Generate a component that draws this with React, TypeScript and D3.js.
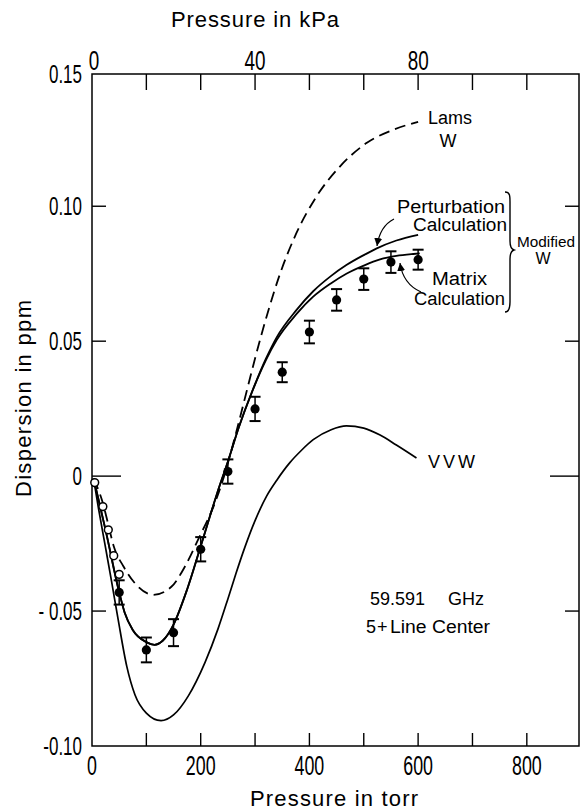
import React from "react";
import * as d3 from "d3";

const W = 580;
const H = 812;
const FONT = "'Liberation Sans', Arial, Helvetica, sans-serif";

// ---- axes ----
const torrTicks = [100, 200, 300, 400, 500, 600, 700, 800];
const torrLabels = [0, 200, 400, 600, 800];
const kpaLabels = [0, 40, 80];
const TORR_PER_KPA = 7.50062;
const yTickValues = [-0.1, -0.05, 0, 0.05, 0.1, 0.15];
const yTickLabels = ["-0.10", "- 0.05", "0", "0.05", "0.10", "0.15"];
const yInnerTicks = [-0.05, 0, 0.05, 0.1];

// ---- measured points (filled, with error bars) ----
const measTorr = [50, 100, 150, 200, 250, 300, 350, 400, 450, 500, 550, 600];
const measPpm = [-0.0431, -0.0644, -0.058, -0.0271, 0.0017, 0.0249, 0.0385, 0.0534, 0.0653, 0.073, 0.0793, 0.0802];
const measErr = [0.0045, 0.0046, 0.005, 0.0045, 0.0045, 0.0045, 0.0037, 0.0042, 0.004, 0.004, 0.004, 0.0037];

// ---- low-pressure points (open circles) ----
const lowTorr = [5, 20, 30, 40, 50];
const lowPpm = [-0.0024, -0.0113, -0.0199, -0.0295, -0.0364];

// ---- curves ----
const lamsTorr = [3, 20, 30, 40, 58, 79, 113, 146, 171, 195, 226, 243, 265, 284, 300, 321, 346, 376, 413, 456, 505, 554, 600];
const lamsPpm = [-0.001, -0.01, -0.018, -0.026, -0.0335, -0.0397, -0.044, -0.041, -0.0335, -0.0236, -0.01, 0, 0.016, 0.031, 0.0436, 0.059, 0.075, 0.09, 0.1036, 0.1147, 0.1234, 0.1283, 0.1313];

const matrixTorr = [3, 10, 25, 50, 60, 75, 100, 115, 130, 150, 175, 200, 230, 251, 270, 294, 320, 340, 376, 407, 440, 468, 500, 530, 560, 591, 603];
const matrixPpm = [-0.001, -0.007, -0.02, -0.043, -0.0505, -0.057, -0.0615, -0.0625, -0.061, -0.055, -0.042, -0.026, -0.0065, 0.006, 0.018, 0.031, 0.043, 0.0505, 0.06, 0.0665, 0.0715, 0.075, 0.078, 0.0803, 0.0816, 0.0823, 0.0825];

const perturbTorr = [3, 10, 25, 50, 60, 75, 100, 115, 130, 150, 175, 200, 230, 251, 270, 294, 320, 340, 376, 407, 440, 468, 500, 523, 560, 600];
const perturbPpm = [-0.001, -0.007, -0.02, -0.043, -0.0505, -0.057, -0.0615, -0.0625, -0.061, -0.055, -0.042, -0.026, -0.0065, 0.006, 0.018, 0.031, 0.0435, 0.0515, 0.0615, 0.0685, 0.0742, 0.0782, 0.0819, 0.0843, 0.0873, 0.0894];

const vvwTorr = [3, 12, 24, 36, 48, 64, 79, 100, 127, 150, 177, 208, 232, 250, 265, 281, 300, 321, 340, 364, 385, 407, 440, 468, 500, 530, 560, 597];
const vvwPpm = [-0.001, -0.012, -0.0255, -0.039, -0.053, -0.0705, -0.081, -0.0878, -0.0906, -0.0885, -0.0815, -0.069, -0.0565, -0.0455, -0.036, -0.0265, -0.0165, -0.0075, -0.0015, 0.005, 0.0095, 0.0135, 0.0172, 0.0186, 0.0178, 0.0152, 0.0115, 0.0067];

const L = 92, R = 579, T = 74, B = 746;

const x = d3.scaleLinear().domain([0, 896]).range([L, R]);
const xk = d3.scaleLinear().domain([0, 896 / TORR_PER_KPA]).range([L, R]);
const y = d3.scaleLinear().domain([-0.1, 0.149]).range([B, T]).clamp(true);

const line = d3
  .line<[number, number]>()
  .x((d) => x(d[0]))
  .y((d) => y(d[1]))
  .curve(d3.curveMonotoneX);

const pts = (a: number[], b: number[]) => a.map((v, i) => [v, b[i]] as [number, number]);

function NumText({ tx, ty, text, anchor, size, sx }: any) {
  return (
    <text
      transform={`translate(${tx},${ty}) scale(${sx},1)`}
      textAnchor={anchor}
      fontSize={size}
      fontFamily={FONT}
      fill="#000"
    >
      {text}
    </text>
  );
}

export default function App() {
  const tickStroke = 1.4;
  return (
    <svg
      width={W}
      height={H}
      viewBox={`0 0 ${W} ${H}`}
      style={{ position: "absolute", left: 0, top: 0, background: "#fff" }}
    >
      <defs>
        <marker
          id="ah"
          markerUnits="userSpaceOnUse"
          markerWidth="10"
          markerHeight="10"
          refX="8"
          refY="4"
          orient="auto"
        >
          <path d="M0,0 L8,4 L0,8 Z" fill="#000" />
        </marker>
      </defs>
      <rect x={0} y={0} width={W} height={H} fill="#fff" />

      {/* frame */}
      <rect x={L} y={T} width={R - L} height={B - T} fill="none" stroke="#000" strokeWidth={1.5} />

      {/* bottom ticks */}
      {torrTicks.map((t) => (
        <line key={"b" + t} x1={x(t)} x2={x(t)} y1={B} y2={B - 13} stroke="#000" strokeWidth={tickStroke} />
      ))}
      {/* top ticks */}
      {torrTicks.map((t) => (
        <line key={"t" + t} x1={x(t)} x2={x(t)} y1={T} y2={T + 16} stroke="#000" strokeWidth={tickStroke} />
      ))}
      {/* left / right ticks */}
      {yInnerTicks.map((v) => {
        const len = v === 0 ? 29 : 14;
        return (
          <g key={"y" + v}>
            <line x1={L} x2={L + len} y1={y(v)} y2={y(v)} stroke="#000" strokeWidth={tickStroke} />
            <line x1={R} x2={R - len} y1={y(v)} y2={y(v)} stroke="#000" strokeWidth={tickStroke} />
          </g>
        );
      })}

      {/* bottom labels */}
      {torrLabels.map((t) => (
        <NumText key={"bl" + t} tx={x(t)} ty={775} text={String(t)} anchor="middle" size={27} sx={0.66} />
      ))}
      {/* top labels (kPa) */}
      {kpaLabels.map((k) => (
        <NumText key={"tl" + k} tx={xk(k) + (k === 0 ? 2 : 0)} ty={70} text={String(k)} anchor="middle" size={27} sx={0.7} />
      ))}
      {/* y labels */}
      {yTickValues.map((v, i) => (
        <NumText key={"yl" + v} tx={82} ty={y(v) + 9} text={yTickLabels[i]} anchor="end" size={25} sx={0.68} />
      ))}

      {/* axis titles */}
      <text x={171} y={27} fontSize={22} fontFamily={FONT} textLength={168} lengthAdjust="spacing">
        Pressure in kPa
      </text>
      <text x={250} y={806} fontSize={22} fontFamily={FONT} textLength={168} lengthAdjust="spacing">
        Pressure in torr
      </text>
      <text
        transform={`translate(31,497) rotate(-90)`}
        fontSize={22}
        fontFamily={FONT}
        textLength={197}
        lengthAdjust="spacing"
      >
        Dispersion in ppm
      </text>

      {/* curves */}
      <path d={line(pts(lamsTorr, lamsPpm)) || ""} fill="none" stroke="#000" strokeWidth={1.8} strokeDasharray="11,6" />
      <path d={line(pts(perturbTorr, perturbPpm)) || ""} fill="none" stroke="#000" strokeWidth={1.8} />
      <path d={line(pts(matrixTorr, matrixPpm)) || ""} fill="none" stroke="#000" strokeWidth={1.8} />
      <path d={line(pts(vvwTorr, vvwPpm)) || ""} fill="none" stroke="#000" strokeWidth={1.7} />

      {/* measured points */}
      {measTorr.map((t, i) => {
        const cx = x(t);
        const v = measPpm[i];
        const e = measErr[i];
        return (
          <g key={"m" + t}>
            <line x1={cx} x2={cx} y1={y(v + e)} y2={y(v - e)} stroke="#000" strokeWidth={1.5} />
            <line x1={cx - 5.5} x2={cx + 5.5} y1={y(v + e)} y2={y(v + e)} stroke="#000" strokeWidth={2} />
            <line x1={cx - 5.5} x2={cx + 5.5} y1={y(v - e)} y2={y(v - e)} stroke="#000" strokeWidth={2} />
            <circle cx={cx} cy={y(v)} r={4.6} fill="#000" />
          </g>
        );
      })}

      {/* open circles */}
      {lowTorr.map((t, i) => (
        <circle key={"o" + t} cx={x(t)} cy={y(lowPpm[i])} r={3.9} fill="#fff" stroke="#000" strokeWidth={1.5} />
      ))}

      {/* annotations */}
      <text x={428} y={124} fontSize={18} fontFamily={FONT}>Lams</text>
      <text x={448} y={147} fontSize={18} fontFamily={FONT} textAnchor="middle">W</text>

      <text x={397} y={213} fontSize={18} fontFamily={FONT} textLength={108} lengthAdjust="spacingAndGlyphs">Perturbation</text>
      <text x={413} y={231} fontSize={18} fontFamily={FONT} textLength={94} lengthAdjust="spacingAndGlyphs">Calculation</text>
      <text x={432} y={285} fontSize={18} fontFamily={FONT} textLength={55} lengthAdjust="spacingAndGlyphs">Matrix</text>
      <text x={414} y={305} fontSize={18} fontFamily={FONT} textLength={91} lengthAdjust="spacingAndGlyphs">Calculation</text>

      <path
        d="M505,192 C510,192 510,196 510,202 L510,241 C510,246 511,249 514,250 C511,251 510,254 510,259 L510,302 C510,308 509,312 505,312"
        fill="none"
        stroke="#000"
        strokeWidth={1.4}
      />
      <text x={517} y={247} fontSize={15} fontFamily={FONT} textLength={58} lengthAdjust="spacingAndGlyphs">Modified</text>
      <text x={543} y={264} fontSize={16} fontFamily={FONT} textAnchor="middle">W</text>

      <path d="M394,219 Q380,226 377,246" fill="none" stroke="#000" strokeWidth={1.2} markerEnd="url(#ah)" />
      <path d="M421,292 Q403,284 400,263" fill="none" stroke="#000" strokeWidth={1.2} markerEnd="url(#ah)" />

      <text x={428} y={468} fontSize={18} fontFamily={FONT} textLength={47} lengthAdjust="spacing">VVW</text>

      <text x={370} y={605} fontSize={18} fontFamily={FONT}>59.591</text>
      <text x={448} y={605} fontSize={18} fontFamily={FONT}>GHz</text>
      <text x={366} y={633} fontSize={18} fontFamily={FONT}>5</text>
      <text x={377} y={633} fontSize={18} fontFamily={FONT}>+</text>
      <text x={390} y={633} fontSize={18} fontFamily={FONT} textLength={100} lengthAdjust="spacingAndGlyphs">Line Center</text>
    </svg>
  );
}
